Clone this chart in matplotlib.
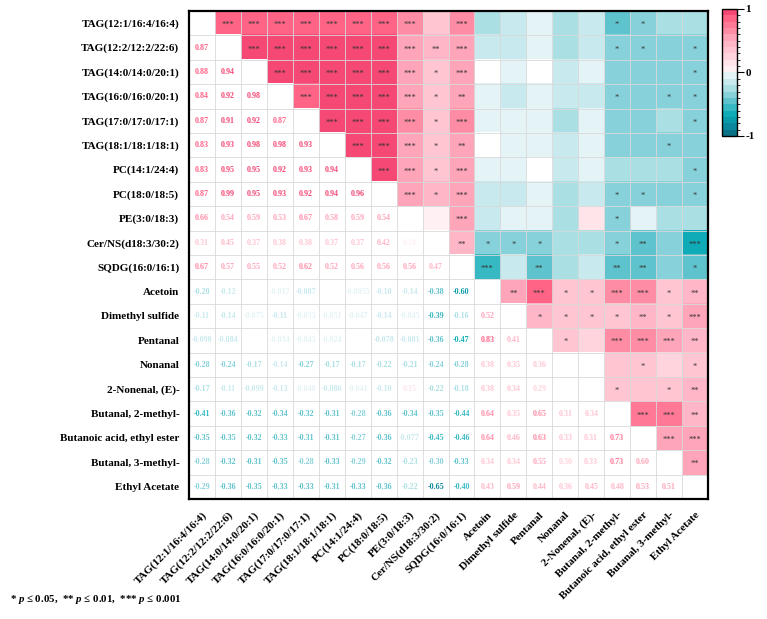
import numpy as np
import matplotlib
matplotlib.use('Agg')
import matplotlib.pyplot as plt
from matplotlib.colors import ListedColormap, BoundaryNorm
from matplotlib.colorbar import ColorbarBase

plt.rcParams['font.family'] = ['Liberation Serif', 'Noto Sans CJK SC']
plt.rcParams['mathtext.fontset'] = 'custom'
plt.rcParams['mathtext.it'] = 'Liberation Serif:italic:bold'
plt.rcParams['mathtext.rm'] = 'Liberation Serif:bold'

labels = ['TAG(12:1/16:4/16:4)', 'TAG(12:2/12:2/22:6)', 'TAG(14:0/14:0/20:1)',
          'TAG(16:0/16:0/20:1)', 'TAG(17:0/17:0/17:1)', 'TAG(18:1/18:1/18:1)',
          'PC(14:1/24:4)', 'PC(18:0/18:5)', 'PE(3:0/18:3)', 'Cer/NS(d18:3/30:2)',
          'SQDG(16:0/16:1)', 'Acetoin', 'Dimethyl sulfide', 'Pentanal', 'Nonanal',
          '2-Nonenal, (E)-', 'Butanal, 2-methyl-', 'Butanoic acid, ethyl ester',
          'Butanal, 3-methyl-', 'Ethyl Acetate']

nan = np.nan  # cells that are left blank (close to zero) in the figure

# lower triangle correlation values, row by row
lower = [
    [],
    [0.87],
    [0.88, 0.94],
    [0.84, 0.92, 0.98],
    [0.87, 0.91, 0.92, 0.87],
    [0.83, 0.93, 0.98, 0.98, 0.93],
    [0.83, 0.95, 0.95, 0.92, 0.93, 0.94],
    [0.87, 0.99, 0.95, 0.93, 0.92, 0.94, 0.96],
    [0.66, 0.54, 0.59, 0.53, 0.67, 0.58, 0.59, 0.54],
    [0.31, 0.45, 0.37, 0.38, 0.38, 0.37, 0.37, 0.42, 0.10],
    [0.67, 0.57, 0.55, 0.52, 0.62, 0.52, 0.56, 0.56, 0.56, 0.47],
    [-0.20, -0.12, nan, -0.017, -0.087, nan, -0.0055, -0.10, -0.14, -0.38, -0.60],
    [-0.11, -0.14, -0.075, -0.11, -0.053, -0.051, -0.047, -0.14, -0.045, -0.39, -0.16, 0.52],
    [-0.090, -0.084, nan, -0.034, -0.043, -0.024, nan, -0.078, -0.081, -0.36, -0.47, 0.83, 0.41],
    [-0.28, -0.24, -0.17, -0.14, -0.27, -0.17, -0.17, -0.22, -0.21, -0.24, -0.28, 0.38, 0.35, 0.36],
    [-0.17, -0.11, -0.099, -0.13, -0.048, -0.086, -0.041, -0.10, 0.15, -0.22, -0.18, 0.38, 0.34, 0.29, nan],
    [-0.41, -0.36, -0.32, -0.34, -0.32, -0.31, -0.28, -0.36, -0.34, -0.35, -0.44, 0.64, 0.35, 0.65, 0.31, 0.34],
    [-0.35, -0.35, -0.32, -0.33, -0.31, -0.31, -0.27, -0.36, -0.077, -0.45, -0.46, 0.64, 0.46, 0.63, 0.33, 0.31, 0.73],
    [-0.28, -0.32, -0.31, -0.35, -0.28, -0.33, -0.29, -0.32, -0.23, -0.30, -0.33, 0.34, 0.34, 0.55, 0.30, 0.33, 0.73, 0.60],
    [-0.29, -0.36, -0.35, -0.33, -0.33, -0.31, -0.33, -0.36, -0.22, -0.65, -0.40, 0.43, 0.59, 0.44, 0.36, 0.45, 0.48, 0.53, 0.51],
]

# significance stars in the upper triangle: row -> {col: stars}
stars = {
    0: {1: '***', 2: '***', 3: '***', 4: '***', 5: '***', 6: '***', 7: '***', 8: '***', 10: '***', 16: '*', 17: '*'},
    1: {2: '***', 3: '***', 4: '***', 5: '***', 6: '***', 7: '***', 8: '***', 9: '**', 10: '***', 16: '*', 17: '*', 19: '*'},
    2: {3: '***', 4: '***', 5: '***', 6: '***', 7: '***', 8: '***', 9: '*', 10: '***', 19: '*'},
    3: {4: '***', 5: '***', 6: '***', 7: '***', 8: '***', 9: '*', 10: '**', 16: '*', 18: '*', 19: '*'},
    4: {5: '***', 6: '***', 7: '***', 8: '***', 9: '*', 10: '***', 19: '*'},
    5: {6: '***', 7: '***', 8: '***', 9: '*', 10: '**', 18: '*'},
    6: {7: '***', 8: '***', 9: '*', 10: '***', 19: '*'},
    7: {8: '***', 9: '*', 10: '***', 16: '*', 17: '*', 19: '*'},
    8: {10: '***', 16: '*'},
    9: {10: '**', 11: '*', 12: '*', 13: '*', 16: '*', 17: '**', 19: '***'},
    10: {11: '***', 13: '**', 16: '**', 17: '**', 19: '*'},
    11: {12: '**', 13: '***', 14: '*', 15: '*', 16: '***', 17: '***', 18: '*', 19: '**'},
    12: {13: '*', 14: '*', 15: '*', 16: '*', 17: '**', 18: '*', 19: '***'},
    13: {14: '*', 16: '***', 17: '***', 18: '***', 19: '**'},
    14: {17: '*', 19: '*'},
    15: {16: '*', 18: '*', 19: '**'},
    16: {17: '***', 18: '***', 19: '**'},
    17: {18: '***', 19: '***'},
    18: {19: '**'},
}

# 20 colour bands from -1 to 1
band_colors = ['#0a7387', '#0a879b', '#0a9bab', '#0facb7', '#37b9c3', '#5fc3cd',
               '#87d2da', '#aae0e4', '#c8e9ed', '#e4f3f6',
               '#fff0f3', '#ffe4ea', '#ffd4dc', '#ffc6d2', '#ffb6c6', '#ffa5b9',
               '#ff8ca5', '#ff7896', '#ff6487', '#f54874']
cmap = ListedColormap(band_colors)
norm = BoundaryNorm(np.linspace(-1, 1, 21), 20)

n = len(labels)
corr = np.eye(n)
for i, row in enumerate(lower):
    for j, v in enumerate(row):
        corr[i, j] = v
        corr[j, i] = v


def text_color(v):
    # numbers in the lower half read a bit darker on the teal side
    if v < 0:
        v = max(v * 1.3, -0.99)
    return cmap(norm(v))


rgb = np.ones((n, n, 4))
for i in range(n):
    for j in range(i + 1, n):
        if not np.isnan(corr[i, j]):
            rgb[i, j] = cmap(norm(corr[i, j]))

fig = plt.figure(figsize=(7.67, 6.19), dpi=100)
ax = fig.add_axes([0.2464, 0.1939, 0.6767, 0.7884])
ax.imshow(rgb, extent=(-0.5, n - 0.5, n - 0.5, -0.5), aspect='auto', interpolation='nearest')

for k in range(1, n):
    ax.axhline(k - 0.5, color='#d9d9d9', lw=0.6)
    ax.axvline(k - 0.5, color='#d9d9d9', lw=0.6)

for i in range(n):
    for j in range(i):
        v = corr[i, j]
        if np.isnan(v):
            continue
        ax.text(j, i, '{:#.2g}'.format(v), ha='center', va='center', fontsize=5.8,
                fontweight='bold', color=text_color(v))
    for j, s in stars.get(i, {}).items():
        ax.text(j, i + 0.08, s, ha='center', va='center', fontsize=6, color='#333333')

ax.set_xlim(-0.5, n - 0.5)
ax.set_ylim(n - 0.5, -0.5)
ax.set_xticks(range(n))
ax.set_yticks(range(n))
ax.set_yticklabels(labels, fontsize=8, fontweight='bold')
ax.set_xticklabels(labels, fontsize=8, fontweight='bold', rotation=45,
                   ha='right', va='top', rotation_mode='anchor')
ax.tick_params(length=0)
ax.tick_params(axis='y', pad=7)
ax.tick_params(axis='x', pad=8)
for sp in ax.spines.values():
    sp.set_linewidth(1.6)

cax = fig.add_axes([0.9413, 0.7803, 0.01956, 0.2052])
cb = ColorbarBase(cax, cmap=cmap, norm=norm, ticks=[-1, 0, 1])
cb.ax.set_yticklabels(['-1', '0', '1'], fontsize=8, fontweight='bold')
cb.ax.tick_params(length=5, width=0.8, pad=1)
cb.outline.set_linewidth(1.0)

fig.text(0.013, 0.032, r'* $\it{p}$ ≤ 0.05,  ** $\it{p}$ ≤ 0.01,  *** $\it{p}$ ≤ 0.001',
         fontsize=7.8, fontweight='bold', ha='left', va='center')

fig.savefig('out.png', dpi=100)
